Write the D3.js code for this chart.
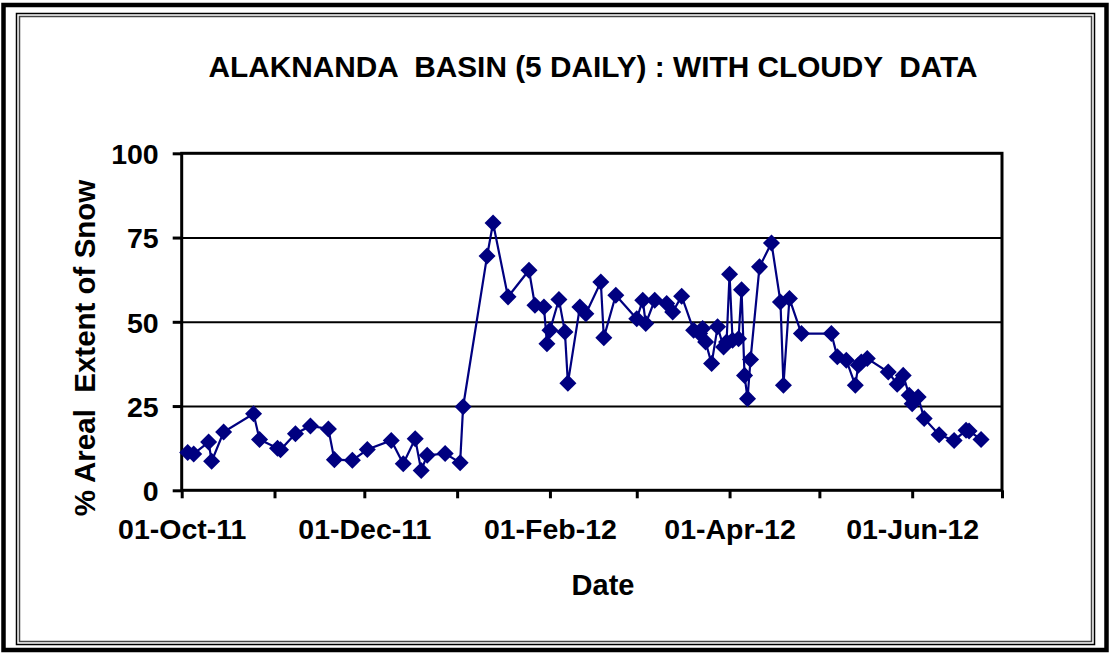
<!DOCTYPE html>
<html>
<head>
<meta charset="utf-8">
<script src="https://cdn.jsdelivr.net/npm/d3@7"></script>
<style>
	body { margin: 0; background: #fff; }
	svg { display: block; }
	text { font-family: "Liberation Sans", Arial, sans-serif; font-weight: bold; fill: #000; white-space: pre; }
</style>
</head>
<body>
<svg></svg>
<script>
// observation dates (5 daily composites) and snow cover in %
const dates = [
	"2011-10-03", "2011-10-05", "2011-10-10", "2011-10-11", "2011-10-15", "2011-10-25", "2011-10-27",
	"2011-11-02", "2011-11-03", "2011-11-08", "2011-11-13", "2011-11-19", "2011-11-21", "2011-11-27",
	"2011-12-02", "2011-12-10", "2011-12-14", "2011-12-18", "2011-12-20", "2011-12-22", "2011-12-28",
	"2012-01-02", "2012-01-03", "2012-01-11", "2012-01-13", "2012-01-18", "2012-01-25", "2012-01-27",
	"2012-01-30", "2012-01-31", "2012-02-01", "2012-02-04", "2012-02-06", "2012-02-07", "2012-02-11",
	"2012-02-13", "2012-02-18", "2012-02-19", "2012-02-23", "2012-03-01", "2012-03-03", "2012-03-04",
	"2012-03-07", "2012-03-11", "2012-03-13", "2012-03-16", "2012-03-20", "2012-03-22", "2012-03-23",
	"2012-03-24", "2012-03-26", "2012-03-28", "2012-03-30", "2012-03-31", "2012-04-01", "2012-04-02",
	"2012-04-04", "2012-04-05", "2012-04-06", "2012-04-07", "2012-04-08", "2012-04-11", "2012-04-15",
	"2012-04-18", "2012-04-19", "2012-04-21", "2012-04-25", "2012-05-05", "2012-05-07", "2012-05-10",
	"2012-05-13", "2012-05-14", "2012-05-15", "2012-05-17", "2012-05-24", "2012-05-27", "2012-05-29",
	"2012-05-31", "2012-06-01", "2012-06-03", "2012-06-05", "2012-06-10", "2012-06-15", "2012-06-19",
	"2012-06-20", "2012-06-24"
];
const snow = [
	11.2, 10.8, 14.3, 8.6, 17.3, 22.7, 15.1,
	12.5, 12.0, 16.8, 19.1, 18.2, 9.1, 8.9,
	12.1, 14.8, 7.9, 15.3, 5.9, 10.4, 10.9,
	8.2, 24.8, 69.5, 79.3, 57.4, 65.3, 54.9,
	54.4, 43.5, 47.5, 56.6, 47.0, 31.8, 54.4,
	52.4, 61.8, 45.3, 57.9, 50.9, 56.4, 49.5,
	56.4, 55.4, 52.9, 57.6, 47.5, 46.5, 48.0,
	44.0, 37.6, 48.5, 42.5, 44.0, 64.1, 44.5,
	45.0, 59.5, 34.1, 27.2, 38.8, 66.3, 73.4,
	55.9, 31.2, 56.9, 46.5, 46.5, 39.6, 38.6,
	31.2, 37.1, 38.1, 39.1, 35.1, 31.5, 34.1,
	28.2, 25.7, 27.7, 21.3, 16.5, 14.8, 17.8,
	17.6, 15.1
];
const yTicks = [0, 25, 50, 75, 100];
const xStart = "2011-10-01";
const xEnd = "2012-07-01";

const chartTitle = "ALAKNANDA  BASIN (5 DAILY) : WITH CLOUDY  DATA";
const yTitle = "% Areal  Extent of Snow";
const xTitle = "Date";

let drawChart = function() {

	const width = 1111;
	const height = 656;
	const left = 181.7, right = 1002, top = 153.3, bottom = 490.3;

	const parse = d3.timeParse("%Y-%m-%d");
	const data = dates.map((d, i) => ({date: parse(d), value: snow[i]}));

	let svg = d3.select("svg")
		.attr("width", width)
		.attr("height", height);

	// outer frame (thick line + inner double line)
	svg.append("rect")
		.attr("x", 3.5).attr("y", 5)
		.attr("width", 1103).attr("height", 645)
		.attr("fill", "none").attr("stroke", "#000").attr("stroke-width", 4.5);
	svg.append("rect")
		.attr("x", 16.5).attr("y", 13.5)
		.attr("width", 1078).attr("height", 631)
		.attr("fill", "none").attr("stroke", "#000").attr("stroke-width", 1.5);
	svg.append("rect")
		.attr("x", 19.5).attr("y", 16.5)
		.attr("width", 1072).attr("height", 625)
		.attr("fill", "none").attr("stroke", "#444").attr("stroke-width", 1.5);

	let xScale = d3.scaleTime()
		.domain([parse(xStart), parse(xEnd)])
		.range([left, right]);

	let yScale = d3.scaleLinear()
		.domain([0, 100])
		.range([bottom, top]);

	// horizontal gridlines
	svg.append("g")
		.attr("transform", `translate(${left}, 0)`)
		.call(d3.axisLeft(yScale)
			.tickValues([25, 50, 75])
			.tickSize(-(right - left))
			.tickFormat(""))
		.call(g => g.select(".domain").remove())
		.call(g => g.selectAll(".tick line").attr("stroke", "#000").attr("stroke-width", 2));

	// y axis
	svg.append("g")
		.attr("id", "y-axis")
		.attr("transform", `translate(${left}, 0)`)
		.call(d3.axisLeft(yScale)
			.tickValues(yTicks)
			.tickSize(9)
			.tickSizeOuter(0))
		.call(g => g.select(".domain").remove())
		.call(g => g.selectAll(".tick line").attr("stroke", "#000").attr("stroke-width", 3))
		.call(g => g.selectAll(".tick text")
			.attr("x", -23)
			.attr("dy", "0.36em")
			.style("font-size", "28.5px"));

	// x axis: a tick each month, label every second month
	svg.append("g")
		.attr("id", "x-axis")
		.attr("transform", `translate(0, ${bottom})`)
		.call(d3.axisBottom(xScale)
			.ticks(d3.timeMonth.every(1))
			.tickSize(8)
			.tickSizeOuter(0)
			.tickFormat(d => d.getMonth() % 2 === 1 ? d3.timeFormat("%d-%b-%y")(d) : ""))
		.call(g => g.select(".domain").remove())
		.call(g => g.selectAll(".tick line").attr("stroke", "#000").attr("stroke-width", 3))
		.call(g => g.selectAll(".tick text")
			.attr("y", 49)
			.attr("dy", null)
			.style("font-size", "28.5px"));

	// plot border
	svg.append("rect")
		.attr("x", left).attr("y", top)
		.attr("width", right - left).attr("height", bottom - top)
		.attr("fill", "none").attr("stroke", "#000").attr("stroke-width", 3);

	// series line
	let line = d3.line()
		.x(d => xScale(d.date))
		.y(d => yScale(d.value));

	svg.append("path")
		.datum(data)
		.attr("d", line)
		.attr("fill", "none")
		.attr("stroke", "#000080")
		.attr("stroke-width", 2.2);

	// diamond markers
	let diamond = d3.symbol().type(d3.symbolSquare).size(145);
	svg.append("g")
		.selectAll("path")
		.data(data)
		.enter()
		.append("path")
			.attr("d", diamond)
			.attr("transform", d => `translate(${xScale(d.date)}, ${yScale(d.value)}) rotate(45)`)
			.attr("fill", "#000080");

	// titles
	svg.append("text")
		.attr("x", 593).attr("y", 77)
		.attr("text-anchor", "middle")
		.style("font-size", "29.8px")
		.text(chartTitle);

	svg.append("text")
		.attr("transform", `translate(95, 348) rotate(-90)`)
		.attr("text-anchor", "middle")
		.style("font-size", "29.5px")
		.text(yTitle);

	svg.append("text")
		.attr("x", 603).attr("y", 595)
		.attr("text-anchor", "middle")
		.style("font-size", "29px")
		.text(xTitle);
}

document.addEventListener("DOMContentLoaded", drawChart);
</script>
</body>
</html>
